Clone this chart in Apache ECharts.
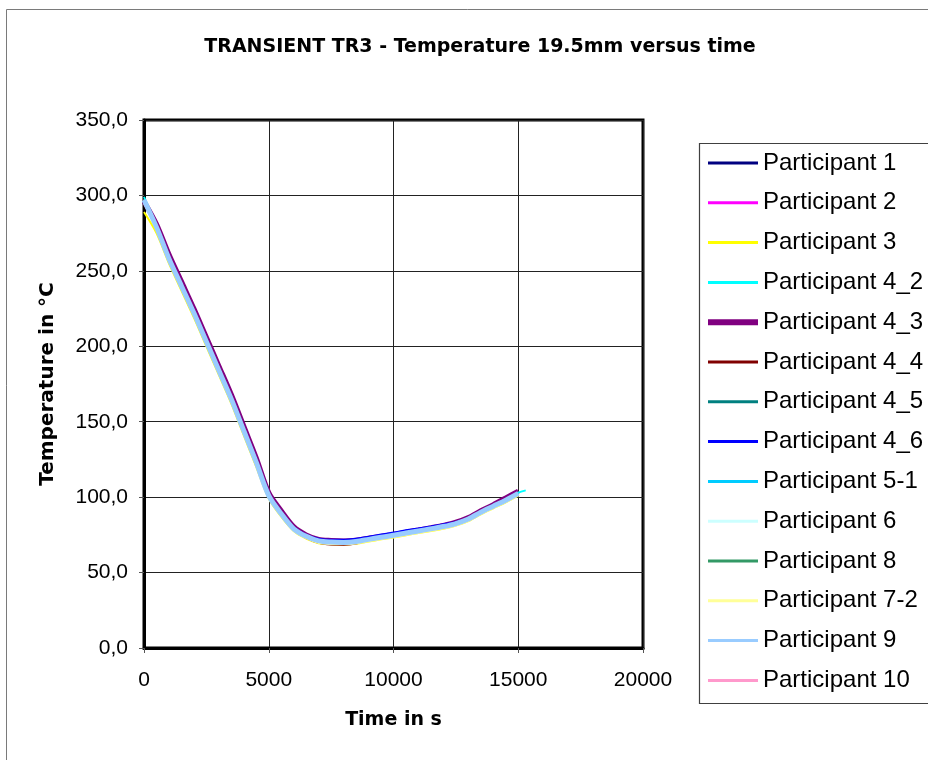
<!DOCTYPE html>
<html>
<head>
<meta charset="utf-8">
<script src="https://cdn.jsdelivr.net/npm/echarts@6/dist/echarts.min.js"></script>
<style>
  html, body { margin: 0; padding: 0; background: #fff; }
  #chart { width: 928px; height: 760px; }
</style>
</head>
<body>
<div id="chart"></div>
<script>
// Sampling times (s) shared by the participants' curves
const TIME = [0, 500, 1000, 1500, 2000, 2500, 3000, 3500, 4000, 4500, 5000, 5500, 6000, 6500, 7000,
  7500, 8000, 8500, 9000, 9500, 10000, 10500, 11000, 11500, 12000, 12500, 13000, 13500, 14000, 14500, 15000];
// Participant 4_2 continues a little further
const TIME_4_2 = TIME.concat([15300]);

// Temperature at 19.5 mm (°C) per participant
const P1   = [297.5, 279.5, 258.5, 240.5, 222.5, 203.5, 184.5, 165.5, 144.5, 123.5, 101.5, 89.5, 79.5, 74.5, 71.5, 70.7, 70.5, 71.1, 72.5, 73.9, 75.2, 76.7, 78.1, 79.5, 81.0, 83.0, 86.0, 90.5, 94.5, 98.5, 103.0];
const P2   = [297, 279, 258, 240, 222, 203, 184, 165, 144, 123, 101, 89, 79, 74, 71, 70.2, 70, 70.6, 72, 73.4, 74.7, 76.2, 77.6, 79, 80.5, 82.5, 85.5, 90, 94, 98, 102.5];
const P3   = [289, 275, 255, 237, 219, 200, 181, 162, 141, 120, 99, 87, 77.5, 72.5, 69.5, 68.8, 68.6, 69.2, 70.6, 72, 73.3, 74.8, 76.2, 77.6, 79.1, 81.1, 84.1, 88.6, 92.6, 96.6, 101];
const P4_2 = [299, 280, 258, 240, 222, 203, 184, 165, 144, 123, 101, 89, 79, 74, 71, 70.2, 70, 70.6, 72, 73.4, 74.7, 76.2, 77.6, 79, 80.5, 82.5, 85.5, 90, 94, 98.5, 103, 104.5];
const P4_3 = [296, 281, 261, 243, 225, 206, 187, 168, 147, 126, 103, 91, 80.5, 75, 72, 71.3, 71, 71.5, 72.8, 74, 75.3, 76.8, 78.2, 79.7, 81.3, 83.4, 86.5, 91, 95, 99.5, 104];
const P4_4 = [296, 279, 258, 240, 222, 203, 184, 165, 144, 123, 101, 89, 78.5, 73, 69.8, 68.6, 68.3, 69.2, 71.5, 73.2, 74.6, 76.1, 77.5, 78.9, 80.4, 82.4, 85.4, 89.9, 93.9, 97.9, 102.4];
const P4_5 = [297, 279, 258, 240, 222, 203, 184, 165, 144, 123, 101, 89, 79, 74, 71, 70.2, 70, 70.6, 72, 73.4, 74.7, 76.2, 77.6, 79, 80.5, 82.5, 85.5, 90, 94, 98, 102.5];
const P4_6 = [297, 279, 258, 240, 222, 203, 184, 165, 144, 123, 101, 89.5, 80, 75, 72.5, 71.8, 71.8, 72.5, 73.8, 75.2, 76.5, 78, 79.3, 80.6, 82, 83.6, 86.3, 90.5, 94.3, 98.2, 102.6];
const P5_1 = [297, 279, 258, 240, 222, 203, 184, 165, 144, 123, 101, 89, 79, 74, 71, 70.2, 70, 70.6, 72, 73.4, 74.7, 76.2, 77.6, 79, 80.5, 82.5, 85.5, 90, 94, 98, 102.5];
const P6   = [296.5, 278.5, 257.5, 239.5, 221.5, 202.5, 183.5, 164.5, 143.5, 122.5, 100.5, 88.5, 78.5, 73.5, 70.5, 69.7, 69.5, 70.1, 71.5, 72.9, 74.2, 75.7, 77.1, 78.5, 80, 82, 85, 89.5, 93.5, 97.5, 102];
const P8   = [297, 279, 258, 240, 222, 203, 184, 165, 144, 123, 101, 89, 79, 74, 71, 70.2, 70, 70.6, 72, 73.4, 74.7, 76.2, 77.6, 79, 80.5, 82.5, 85.5, 90, 94, 98, 102.5];
const P7_2 = [295, 277.5, 256.5, 238.5, 220.5, 201.5, 182.5, 163.5, 142.5, 121.5, 99.5, 87.5, 77.8, 72.8, 69.6, 68.9, 68.7, 69.3, 70.7, 72.1, 73.4, 74.9, 76.3, 77.7, 79.2, 81.2, 84.2, 88.7, 92.7, 96.7, 101.2];
const P9   = [297, 279, 258, 240, 222, 203, 184, 165, 144, 123, 101, 89, 79, 74, 71, 70.2, 70, 70.6, 72, 73.4, 74.7, 76.2, 77.6, 79, 80.5, 82.5, 85.5, 90, 94, 98, 102.5];
const P10  = [297.5, 279.5, 258.5, 240.5, 222.5, 203.5, 184.5, 165.5, 144.5, 123.5, 101.5, 89.5, 79.5, 74.5, 71.5, 70.7, 70.5, 71.1, 72.5, 73.9, 75.2, 76.7, 78.1, 79.5, 81, 83, 86, 90.5, 94.5, 98.5, 103];

// Axis ticks
const X_TICKS = [0, 5000, 10000, 15000, 20000];
const Y_TICKS = [0, 50, 100, 150, 200, 250, 300, 350];

// Legend keys: a horizontal bar centred in a 50x20 box (thin and thick variants)
const KEY_THIN  = 'path://M0,0L0,0M0,8.5L50,8.5L50,11.5L0,11.5ZM50,20L50,20';
const KEY_THICK = 'path://M0,0L0,0M0,7L50,7L50,13L0,13ZM50,20L50,20';

// name, values, times, colour, plot width, legend key, drawing order
const SERIES = [
  ['Participant 1',   P1,   TIME,     '#000080', 2, KEY_THIN,  2],
  ['Participant 2',   P2,   TIME,     '#FF00FF', 2, KEY_THIN,  2],
  ['Participant 3',   P3,   TIME,     '#FFFF00', 2, KEY_THIN,  2],
  ['Participant 4_2', P4_2, TIME_4_2, '#00FFFF', 2, KEY_THIN,  3],
  ['Participant 4_3', P4_3, TIME,     '#800080', 5, KEY_THICK, 1],
  ['Participant 4_4', P4_4, TIME,     '#800000', 2, KEY_THIN,  2],
  ['Participant 4_5', P4_5, TIME,     '#008080', 2, KEY_THIN,  2],
  ['Participant 4_6', P4_6, TIME,     '#0000FF', 2, KEY_THIN,  2],
  ['Participant 5-1', P5_1, TIME,     '#00CCFF', 2, KEY_THIN,  2],
  ['Participant 6',   P6,   TIME,     '#CCFFFF', 2, KEY_THIN,  2],
  ['Participant 8',   P8,   TIME,     '#339966', 2, KEY_THIN,  2],
  ['Participant 7-2', P7_2, TIME,     '#FFFF99', 2, KEY_THIN,  2],
  ['Participant 9',   P9,   TIME,     '#99CCFF', 5, KEY_THIN,  4],
  ['Participant 10',  P10,  TIME,     '#FF99CC', 2, KEY_THIN,  2]
];

const FONT = '"Liberation Sans", Arial, sans-serif';
const BOLD_FONT = '"DejaVu Sans", Verdana, sans-serif';

const chart = echarts.init(document.getElementById('chart'), null, { renderer: 'canvas' });

const option = {
  backgroundColor: '#ffffff',
  animation: false,
  title: {
    text: 'TRANSIENT TR3 - Temperature 19.5mm versus time',
    left: 475, top: 33, textAlign: 'center',
    textStyle: { fontFamily: BOLD_FONT, fontSize: 19, fontWeight: 'bold', color: '#000' }
  },
  grid: {
    left: 144, top: 120, right: 285, bottom: 112,
    show: true, borderColor: '#000', borderWidth: 3, backgroundColor: '#fff'
  },
  legend: {
    orient: 'vertical',
    left: 703, top: 146,
    itemWidth: 50, itemHeight: 20, itemGap: 15.8,
    textStyle: { fontFamily: FONT, fontSize: 24, color: '#000', lineHeight: 24 },
    data: SERIES.map(s => ({ name: s[0], icon: s[5], itemStyle: { color: s[3], borderWidth: 0 } }))
  },
  xAxis: {
    type: 'value', min: 0, max: 20000, interval: 5000,
    name: 'Time in s', nameLocation: 'middle', nameGap: 63,
    nameTextStyle: { fontFamily: BOLD_FONT, fontSize: 19, fontWeight: 'bold', color: '#000' },
    axisLine: { show: true, onZero: false, lineStyle: { color: '#000', width: 3 } },
    axisTick: { show: true, inside: false, length: 5, lineStyle: { color: '#555', width: 1 } },
    axisLabel: {
      margin: 22, fontFamily: FONT, fontSize: 21, color: '#000',
      formatter: v => (X_TICKS.indexOf(v) >= 0 ? String(v) : '')
    },
    splitLine: { show: true, lineStyle: { color: '#222', width: 1 } }
  },
  yAxis: {
    type: 'value', min: 0, max: 350, interval: 50,
    name: 'Temperature in °C', nameLocation: 'middle', nameGap: 86, nameRotate: 90,
    nameTextStyle: { fontFamily: BOLD_FONT, fontSize: 20, fontWeight: 'bold', color: '#000' },
    axisLine: { show: true, onZero: false, lineStyle: { color: '#000', width: 3 } },
    axisTick: { show: true, inside: false, length: 5, lineStyle: { color: '#555', width: 1 } },
    axisLabel: {
      margin: 16, fontFamily: FONT, fontSize: 21, color: '#000',
      formatter: v => (Y_TICKS.indexOf(v) >= 0 ? v.toFixed(1).replace('.', ',') : '')
    },
    splitLine: { show: true, lineStyle: { color: '#222', width: 1 } }
  },
  graphic: [
    { type: 'rect', shape: { x: 6.5, y: 9.5, width: 940, height: 770 },
      style: { fill: null, stroke: '#7a7a7a', lineWidth: 1 }, z: 100, silent: true },
    { type: 'rect', shape: { x: 699.5, y: 143.5, width: 240, height: 560 },
      style: { fill: null, stroke: '#404040', lineWidth: 1.2 }, z: 100, silent: true }
  ],
  series: SERIES.map(s => ({
    name: s[0],
    type: 'line',
    symbol: 'none',
    showSymbol: false,
    smooth: 0.3,
    z: s[6],
    lineStyle: { color: s[3], width: s[4] },
    itemStyle: { color: s[3] },
    data: s[2].map((t, i) => [t, s[1][i]])
  }))
};

chart.setOption(option);
</script>
</body>
</html>
